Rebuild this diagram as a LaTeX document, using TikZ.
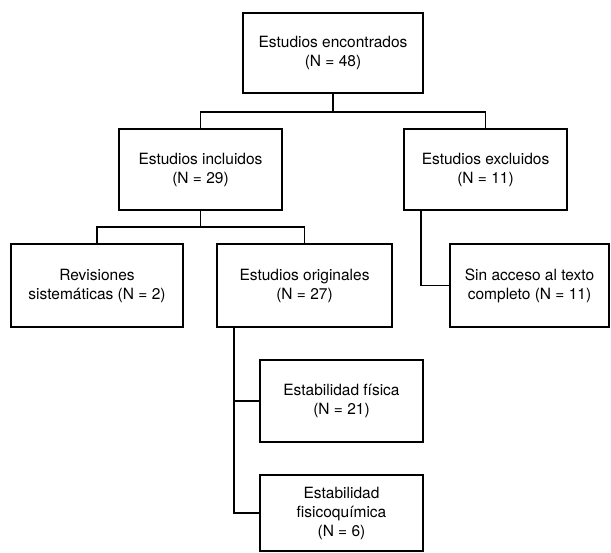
\documentclass[tikz,border=0pt]{standalone}
\usepackage{fontspec}
\setmainfont{TeX Gyre Heros}
\begin{document}
\begin{tikzpicture}[x=1pt,y=-1pt,
  box/.style={draw,line width=1.5pt,inner sep=0pt,align=center,
    font=\fontsize{15.5}{19}\selectfont},
  conn/.style={line width=1.5pt}]
\useasboundingbox (0,0) rectangle (611,553);
\node[box,minimum width=180pt,minimum height=80pt] (b1) at (333,53) {Estudios encontrados\\(N = 48)};
\node[box,minimum width=163pt,minimum height=81pt] (b2) at (200.5,169.5) {Estudios incluidos\\(N = 29)};
\node[box,minimum width=163pt,minimum height=81pt] (b3) at (485.5,169.5) {Estudios excluidos\\(N = 11)};
\node[box,minimum width=172pt,minimum height=83pt] (b4) at (97,285.5) {Revisiones\\sistemáticas (N = 2)};
\node[box,minimum width=175pt,minimum height=83pt] (b5) at (304.5,285.5) {Estudios originales\\(N = 27)};
\node[box,minimum width=159pt,minimum height=83pt] (b6) at (529.5,285.5) {Sin acceso al texto\\completo (N = 11)};
\node[box,minimum width=163pt,minimum height=82pt] (b7) at (341.5,401) {Estabilidad física\\(N = 21)};
\node[box,minimum width=163pt,minimum height=76pt] (b8) at (341.5,513) {Estabilidad\\fisicoquímica\\(N = 6)};
\coordinate (j1) at (333,112);
\coordinate (j2) at (200.5,227);
\coordinate (k3) at (421,283);
\coordinate (k5) at (234,330);
\draw[conn] (b1.south) -- (j1);
\draw[conn] (b2.north) -- (b2.north |- j1) -| (b3.north);
\draw[conn] (b2.south) -- (j2);
\draw[conn] (b4.north) -- (b4.north |- j2) -| (b5.north);
\draw[conn] (b3.south -| k3) |- (b6.west);
\draw[conn] (b5.south -| k5) |- (b7.west);
\draw[conn] (b5.south -| k5) |- (b8.west);
\end{tikzpicture}
\end{document}
